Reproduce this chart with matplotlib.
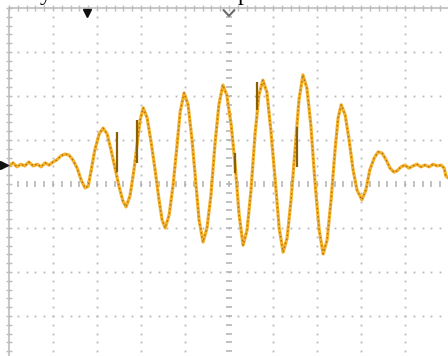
import numpy as np
import matplotlib
matplotlib.use('Agg')
from matplotlib import pyplot as plt

# trace, in divisions (x: 0..10, y: -4..4, 0 = centre)
t_div = [0.00, 0.09, 0.18, 0.27, 0.36, 0.45, 0.55, 0.64, 0.73, 0.82, 0.91, 1.00,
         1.09, 1.18, 1.27, 1.36, 1.45, 1.55, 1.64, 1.73, 1.80, 1.86, 1.95, 2.05,
         2.14, 2.23, 2.32, 2.41, 2.50, 2.59, 2.66, 2.75, 2.84, 2.91, 2.98, 3.05,
         3.14, 3.23, 3.32, 3.41, 3.48, 3.55, 3.64, 3.73, 3.82, 3.89, 3.98, 4.07,
         4.16, 4.25, 4.32, 4.41, 4.50, 4.59, 4.68, 4.77, 4.86, 4.95, 5.05, 5.14,
         5.23, 5.32, 5.41, 5.50, 5.59, 5.68, 5.77, 5.86, 5.95, 6.05, 6.14, 6.23,
         6.32, 6.41, 6.50, 6.59, 6.68, 6.77, 6.86, 6.95, 7.05, 7.14, 7.23, 7.32,
         7.41, 7.48, 7.55, 7.64, 7.73, 7.82, 7.91, 8.02, 8.11, 8.20, 8.30, 8.39,
         8.48, 8.57, 8.66, 8.75, 8.82, 8.91, 9.00, 9.09, 9.18, 9.27, 9.36, 9.45,
         9.55, 9.64, 9.73, 9.82, 9.89, 9.93, 9.98]
v_div = [0.41, 0.48, 0.39, 0.45, 0.41, 0.50, 0.41, 0.45, 0.39, 0.48, 0.43, 0.50,
         0.55, 0.64, 0.68, 0.66, 0.55, 0.36, 0.09, -0.09, -0.05, 0.27, 0.77, 1.14,
         1.27, 1.14, 0.77, 0.36, -0.05, -0.39, -0.52, -0.27, 0.32, 0.89, 1.45, 1.73,
         1.50, 0.95, 0.32, -0.36, -0.82, -1.00, -0.70, -0.02, 0.89, 1.64, 2.07, 1.80,
         1.00, -0.02, -0.82, -1.32, -1.00, -0.25, 0.89, 1.80, 2.25, 2.02, 1.34, 0.43,
         -0.70, -1.39, -1.05, -0.14, 1.11, 2.02, 2.36, 2.09, 1.23, 0.09, -1.00, -1.55,
         -1.23, -0.36, 0.77, 1.91, 2.48, 2.18, 1.34, 0.09, -1.05, -1.59, -1.27, -0.36,
         0.77, 1.50, 1.80, 1.57, 1.00, 0.32, -0.14, -0.36, -0.14, 0.32, 0.59, 0.73,
         0.70, 0.55, 0.36, 0.27, 0.30, 0.39, 0.43, 0.36, 0.41, 0.45, 0.39, 0.43,
         0.39, 0.45, 0.41, 0.43, 0.36, 0.18, 0.14]

# glitches (vertical steps) on the trace
spike_t = [2.45, 2.91, 5.14, 5.64, 6.55]
spike_lo = [0.27, 0.48, 0.25, 1.68, 0.39]
spike_hi = [1.18, 1.45, 0.70, 2.32, 1.30]

fig = plt.figure(figsize=(4.48, 3.56), dpi=100)
ax = fig.add_axes([9 / 448, -4 / 356, 440 / 448, 352 / 356])
ax.set_xlim(0, 10)
ax.set_ylim(-4, 4)
ax.axis('off')

grid_c = '#b8b8b8'
fine_x = np.arange(0, 10.01, 0.2)
fine_y = np.arange(-4, 4.01, 0.2)

# dotted graticule
for gx in range(1, 10):
    if gx == 5:
        continue
    ax.plot(np.full(len(fine_y), gx), fine_y, ls='none', marker='s', ms=1.3,
            mec='none', mfc=grid_c)
for gy in range(-3, 4):
    if gy == 0:
        continue
    ax.plot(fine_x, np.full(len(fine_x), gy), ls='none', marker='s', ms=1.3,
            mec='none', mfc=grid_c)

# centre axes with minor ticks
ax.plot(np.full(len(fine_y), 5), fine_y, ls='none', marker='_', ms=4.5, mew=1.1,
        color='#b0b0b0')
ax.plot(fine_x, np.zeros(len(fine_x)), ls='none', marker='|', ms=4.5, mew=1.1,
        color='#b0b0b0')

# border (left and top visible)
ax.plot([0, 0], [-4, 4], color='#c8c8c8', lw=1.5, clip_on=False)
ax.plot([0, 10], [4, 4], color='#c8c8c8', lw=1.5, clip_on=False)
ax.plot(np.zeros(len(fine_y)), fine_y, ls='none', marker='_', ms=4.5, mew=1.0,
        color='#bdbdbd', clip_on=False)
ax.plot(fine_x, np.full(len(fine_x), 4), ls='none', marker='|', ms=4.5, mew=1.0,
        color='#bdbdbd', clip_on=False)

# trace
ax.plot(t_div, v_div, color='#F6B02A', lw=2.3, solid_joinstyle='round', zorder=3)
ax.plot(t_div, v_div, color='#6e4a00', lw=1.0, alpha=0.6, dashes=(1, 2), zorder=4)
ax.vlines(spike_t, spike_lo, spike_hi, color='#8a6004', lw=1.6, zorder=4)

# scope markers
ax.plot([1.77], [3.89], marker='v', ms=6, color='#111111', clip_on=False, zorder=5)
ax.plot([4.88, 5.0, 5.12], [3.95, 3.82, 3.95], color='#6a6a6a', lw=1.5,
        clip_on=False, zorder=5)
ax.plot([-0.11], [0.43], marker='>', ms=6, color='#111111', clip_on=False, zorder=5)

# caption above the screen, only the descenders show
fig.text(46 / 448, 1.0, 'y', ha='center', va='baseline', fontsize=17,
         family='Liberation Serif', color='black')
fig.text(243 / 448, 1.0, 'p', ha='center', va='baseline', fontsize=17,
         family='Liberation Serif', color='black')

fig.savefig('out.png', dpi=100)
